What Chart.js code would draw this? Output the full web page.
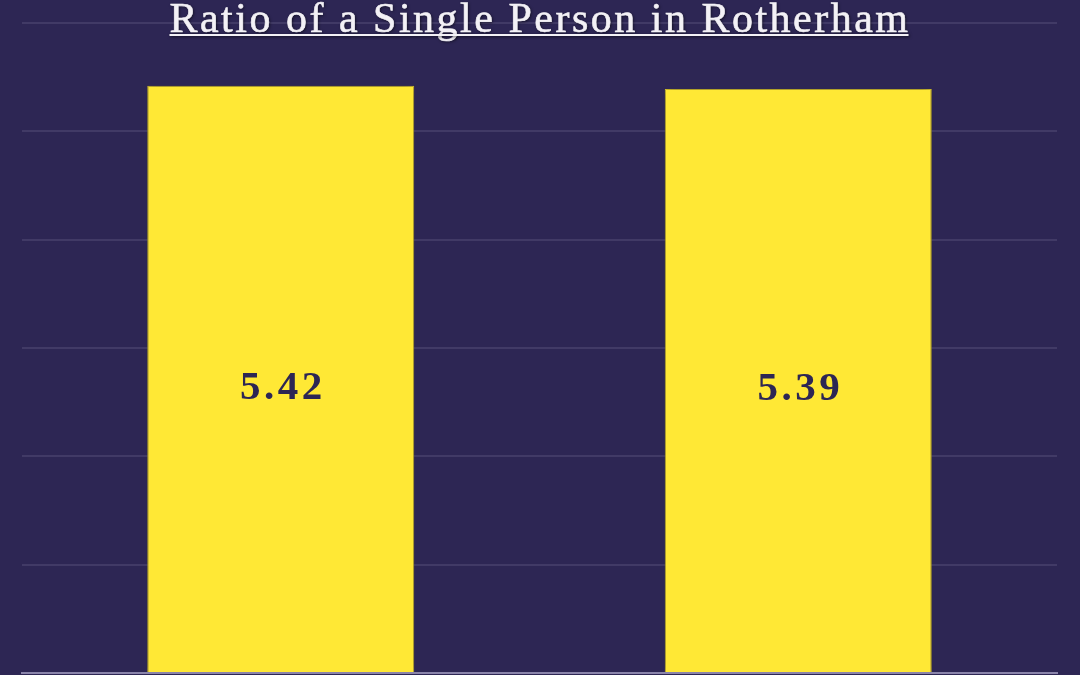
<!DOCTYPE html>
<html>
<head>
<meta charset="utf-8">
<script src="https://cdn.jsdelivr.net/npm/chart.js@4/dist/chart.umd.min.js"></script>
<style>
  html,body{margin:0;padding:0;background:#2d2654;}
  #wrap{width:1080px;height:675px;position:relative;}
</style>
</head>
<body>
<div id="wrap"><canvas id="c" width="1080" height="675"></canvas></div>
<script>
const titleText = "Ratio of a Single Person in Rotherham";
const categories = ["Rotherham 2022", "Rotherham 2023"];
const ratioValues = [5.42, 5.39];
const valueLabels = ["5.42", "5.39"];
const yTicks = [0, 1, 2, 3, 4, 5, 6];

const BG = "#2d2654";
const BAR = "#ffe835";
const NAVY = "#2d2654";

const bgPlugin = {
  id: "bg",
  beforeDraw(chart) {
    const ctx = chart.ctx;
    ctx.save();
    ctx.fillStyle = BG;
    ctx.fillRect(0, 0, chart.width, chart.height);
    ctx.restore();
  }
};

const shadowPlugin = {
  id: "barShadow",
  beforeDatasetsDraw(chart) {
    const ctx = chart.ctx;
    ctx.save();
    ctx.shadowColor = "rgba(10,6,30,0.5)";
    ctx.shadowBlur = 10;
    ctx.shadowOffsetX = 0;
    ctx.shadowOffsetY = 0;
  },
  afterDatasetsDraw(chart) {
    chart.ctx.restore();
  }
};

const labelPlugin = {
  id: "valueLabels",
  afterDatasetsDraw(chart) {
    const ctx = chart.ctx;
    const meta = chart.getDatasetMeta(0);
    ctx.save();
    ctx.fillStyle = NAVY;
    ctx.font = "bold 41px 'Liberation Serif', 'DejaVu Serif', serif";
    ctx.textAlign = "center";
    ctx.textBaseline = "middle";
    try { ctx.letterSpacing = "3.5px"; } catch (e) {}
    meta.data.forEach((bar, i) => {
      const midY = (bar.y + bar.base) / 2;
      ctx.fillText(valueLabels[i], bar.x + 2, midY + 9);
    });
    ctx.restore();
  }
};

const titlePlugin = {
  id: "underlinedTitle",
  afterDraw(chart) {
    const ctx = chart.ctx;
    ctx.save();
    ctx.font = "42px 'Liberation Serif', 'DejaVu Serif', serif";
    try { ctx.letterSpacing = "2.5px"; } catch (e) {}
    ctx.textAlign = "center";
    ctx.textBaseline = "alphabetic";
    const cx = chart.width / 2;
    const baseY = 32;
    const w = ctx.measureText(titleText).width;
    ctx.shadowColor = "rgba(0,0,0,0.6)";
    ctx.shadowBlur = 3;
    ctx.shadowOffsetX = 1;
    ctx.shadowOffsetY = 1;
    ctx.fillStyle = "#f3f1f6";
    ctx.strokeStyle = "#f3f1f6";
    ctx.lineWidth = 0.6;
    ctx.fillText(titleText, cx, baseY);
    ctx.shadowColor = "rgba(0,0,0,0)";
    ctx.strokeText(titleText, cx, baseY);
    ctx.shadowColor = "rgba(0,0,0,0.6)";
    ctx.fillRect(cx - w / 2, baseY + 2, w - 2, 2);
    ctx.restore();
  }
};

new Chart(document.getElementById("c"), {
  type: "bar",
  data: {
    labels: categories,
    datasets: [{
      label: "Ratio",
      data: ratioValues,
      backgroundColor: BAR,
      borderColor: "#e3cf2e",
      borderWidth: 1,
      borderSkipped: "bottom",
      barPercentage: 0.645,
      categoryPercentage: 0.8
    }]
  },
  options: {
    responsive: false,
    animation: false,
    devicePixelRatio: 1,
    layout: { padding: { left: 22, right: 23, top: 23, bottom: 2 } },
    plugins: {
      legend: { display: false },
      title: { display: false },
      tooltip: { enabled: false }
    },
    scales: {
      x: {
        ticks: { display: false },
        grid: { display: false, drawTicks: false },
        border: { display: true, color: "#8a84aa", width: 2 }
      },
      y: {
        min: yTicks[0],
        max: yTicks[yTicks.length - 1],
        afterBuildTicks(scale) { scale.ticks = yTicks.map(v => ({ value: v })); },
        ticks: { display: false },
        grid: {
          color: ctx => ctx.tick && ctx.tick.value === 0 ? "rgba(0,0,0,0)" : "#413a66",
          lineWidth: 2,
          drawTicks: false
        },
        border: { display: false }
      }
    }
  },
  plugins: [bgPlugin, shadowPlugin, labelPlugin, titlePlugin]
});
</script>
</body>
</html>
